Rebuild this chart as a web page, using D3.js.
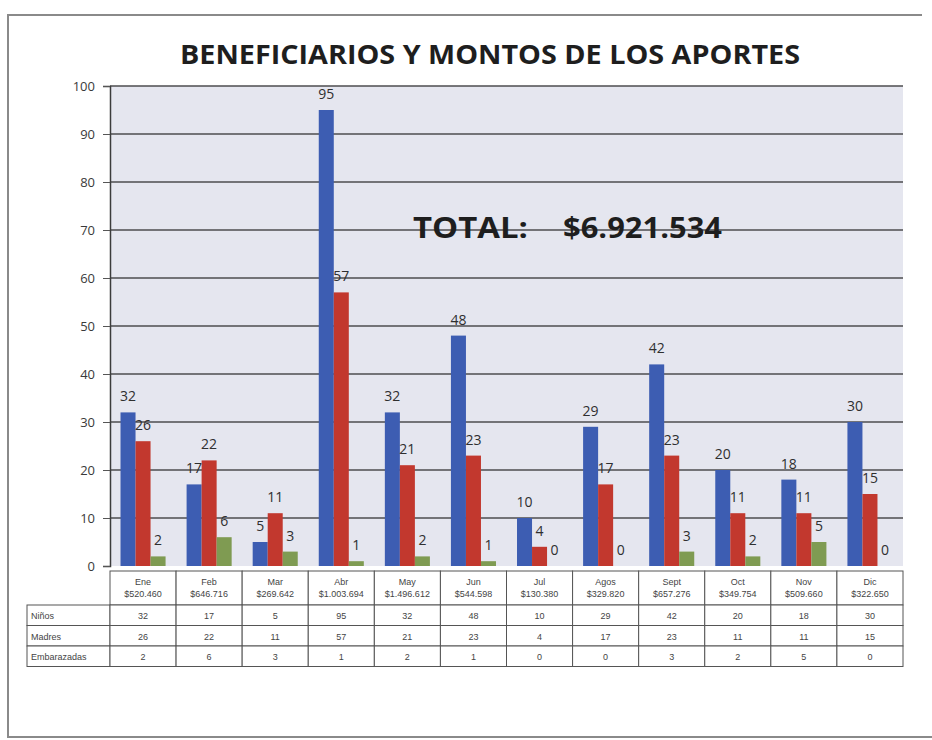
<!DOCTYPE html>
<html>
<head>
<meta charset="utf-8">
<script src="https://cdn.jsdelivr.net/npm/d3@7"></script>
<style>
  body { margin: 0; background: #fff; }
  svg { display: block; }
</style>
</head>
<body>
<svg width="932" height="740"></svg>
<script>
var months = ["Ene", "Feb", "Mar", "Abr", "May", "Jun", "Jul", "Agos", "Sept", "Oct", "Nov", "Dic"];
var amounts = ["$520.460", "$646.716", "$269.642", "$1.003.694", "$1.496.612", "$544.598",
               "$130.380", "$329.820", "$657.276", "$349.754", "$509.660", "$322.650"];
var seriesNames = ["Niños", "Madres", "Embarazadas"];
var ninos = [32, 17, 5, 95, 32, 48, 10, 29, 42, 20, 18, 30];
var madres = [26, 22, 11, 57, 21, 23, 4, 17, 23, 11, 11, 15];
var embarazadas = [2, 6, 3, 1, 2, 1, 0, 0, 3, 2, 5, 0];
var yTicks = [0, 10, 20, 30, 40, 50, 60, 70, 80, 90, 100];
var title = "BENEFICIARIOS Y MONTOS DE LOS APORTES";
var totalLabel = "TOTAL:";
var totalValue = "$6.921.534";

var seriesValues = [ninos, madres, embarazadas];
var colors = ["#3d5db2", "#c2382e", "#7f9b52"];

var svg = d3.select("svg");
var plot = { left: 110, right: 903, top: 86, bottom: 566 };

// page frame (scanned sheet edges)
svg.append("path")
    .attr("d", "M922,15 L8,15 L8,737 L932,737")
    .attr("fill", "none")
    .attr("stroke", "#8a8a8a")
    .attr("stroke-width", 2);

// title
svg.append("text")
    .attr("x", 490).attr("y", 64)
    .attr("text-anchor", "middle")
    .attr("font-family", "Open Sans, sans-serif")
    .attr("font-weight", "bold")
    .attr("font-size", 27)
    .attr("textLength", 620)
    .attr("lengthAdjust", "spacingAndGlyphs")
    .attr("fill", "#1e1e1e")
    .text(title);

// scales
var x0 = d3.scaleBand().domain(months).range([plot.left, plot.right]);
var x1 = d3.scaleBand().domain(seriesNames).range([0, x0.bandwidth()]).paddingOuter(0.7);
var y = d3.scaleLinear().domain([0, 100]).range([plot.bottom, plot.top]);

// plot background
svg.append("rect")
    .attr("x", plot.left).attr("y", plot.top)
    .attr("width", plot.right - plot.left)
    .attr("height", plot.bottom - plot.top)
    .attr("fill", "#e5e6ef");

// gridlines
svg.append("g")
    .selectAll("line")
    .data(yTicks.filter(function (d) { return d > 0; }))
    .join("line")
    .attr("x1", plot.left).attr("x2", plot.right)
    .attr("y1", function (d) { return y(d); })
    .attr("y2", function (d) { return y(d); })
    .attr("stroke", "#4d4d4f")
    .attr("stroke-width", 1.5);

// y axis
var yAxis = svg.append("g")
    .attr("transform", "translate(" + plot.left + ",0)")
    .call(d3.axisLeft(y).tickValues(yTicks).tickSize(7).tickPadding(8));
yAxis.select(".domain").attr("stroke", "#3c3c3c").attr("stroke-width", 1.5);
yAxis.selectAll(".tick line").attr("stroke", "#555");
yAxis.selectAll("text")
    .attr("font-family", "Open Sans, sans-serif")
    .attr("font-size", 13)
    .attr("fill", "#3a3a3a");

// bars
var groups = svg.append("g")
    .selectAll("g")
    .data(months)
    .join("g")
    .attr("transform", function (d) { return "translate(" + x0(d) + ",0)"; });

groups.selectAll("rect")
    .data(function (m, i) {
        return seriesNames.map(function (s, k) { return { s: s, k: k, v: seriesValues[k][i] }; });
    })
    .join("rect")
    .attr("x", function (d) { return x1(d.s); })
    .attr("width", x1.bandwidth())
    .attr("y", function (d) { return y(d.v); })
    .attr("height", function (d) { return y(0) - y(d.v); })
    .attr("fill", function (d) { return colors[d.k]; });

groups.selectAll("text")
    .data(function (m, i) {
        return seriesNames.map(function (s, k) { return { s: s, k: k, v: seriesValues[k][i] }; });
    })
    .join("text")
    .attr("x", function (d) { return x1(d.s) + x1.bandwidth() / 2; })
    .attr("y", function (d) { return y(d.v) - 11; })
    .attr("text-anchor", "middle")
    .attr("font-family", "Open Sans, sans-serif")
    .attr("font-size", 14)
    .attr("fill", "#2f2f2f")
    .text(function (d) { return d.v; });

// total annotation
var total = svg.append("text")
    .attr("y", 238)
    .attr("font-family", "Open Sans, sans-serif")
    .attr("font-weight", "bold")
    .attr("font-size", 29)
    .attr("fill", "#1e1e1e");
total.append("tspan").attr("x", 413).attr("textLength", 115).attr("lengthAdjust", "spacingAndGlyphs").text(totalLabel);
total.append("tspan").attr("x", 563).attr("textLength", 159).attr("lengthAdjust", "spacingAndGlyphs").text(totalValue);

// data table
var tableTop = 571, headerH = 34, rowH = 20.5, labelLeft = 27;
var table = svg.append("g").attr("font-family", "Liberation Sans, Arial, sans-serif").attr("fill", "#3a3a3a");

// header cells
months.forEach(function (m, i) {
    table.append("rect")
        .attr("x", x0(m)).attr("y", tableTop)
        .attr("width", x0.bandwidth()).attr("height", headerH)
        .attr("fill", "#fff").attr("stroke", "#555").attr("stroke-width", 1);
    table.append("text")
        .attr("x", x0(m) + x0.bandwidth() / 2).attr("y", tableTop + 14)
        .attr("text-anchor", "middle").attr("font-size", 9).attr("fill", "#444")
        .text(m);
    table.append("text")
        .attr("x", x0(m) + x0.bandwidth() / 2).attr("y", tableTop + 26)
        .attr("text-anchor", "middle").attr("font-size", 9).attr("fill", "#444")
        .text(amounts[i]);
});

// value rows
seriesNames.forEach(function (s, k) {
    var ry = tableTop + headerH + k * rowH;
    table.append("rect")
        .attr("x", labelLeft).attr("y", ry)
        .attr("width", plot.left - labelLeft).attr("height", rowH)
        .attr("fill", "#fff").attr("stroke", "#555").attr("stroke-width", 1);
    table.append("text")
        .attr("x", labelLeft + 4).attr("y", ry + 14)
        .attr("font-size", 9).attr("fill", "#444")
        .text(s);
    months.forEach(function (m, i) {
        table.append("rect")
            .attr("x", x0(m)).attr("y", ry)
            .attr("width", x0.bandwidth()).attr("height", rowH)
            .attr("fill", "#fff").attr("stroke", "#555").attr("stroke-width", 1);
        table.append("text")
            .attr("x", x0(m) + x0.bandwidth() / 2).attr("y", ry + 14)
            .attr("text-anchor", "middle").attr("font-size", 9).attr("fill", "#444")
            .text(seriesValues[k][i]);
    });
});
</script>
</body>
</html>
